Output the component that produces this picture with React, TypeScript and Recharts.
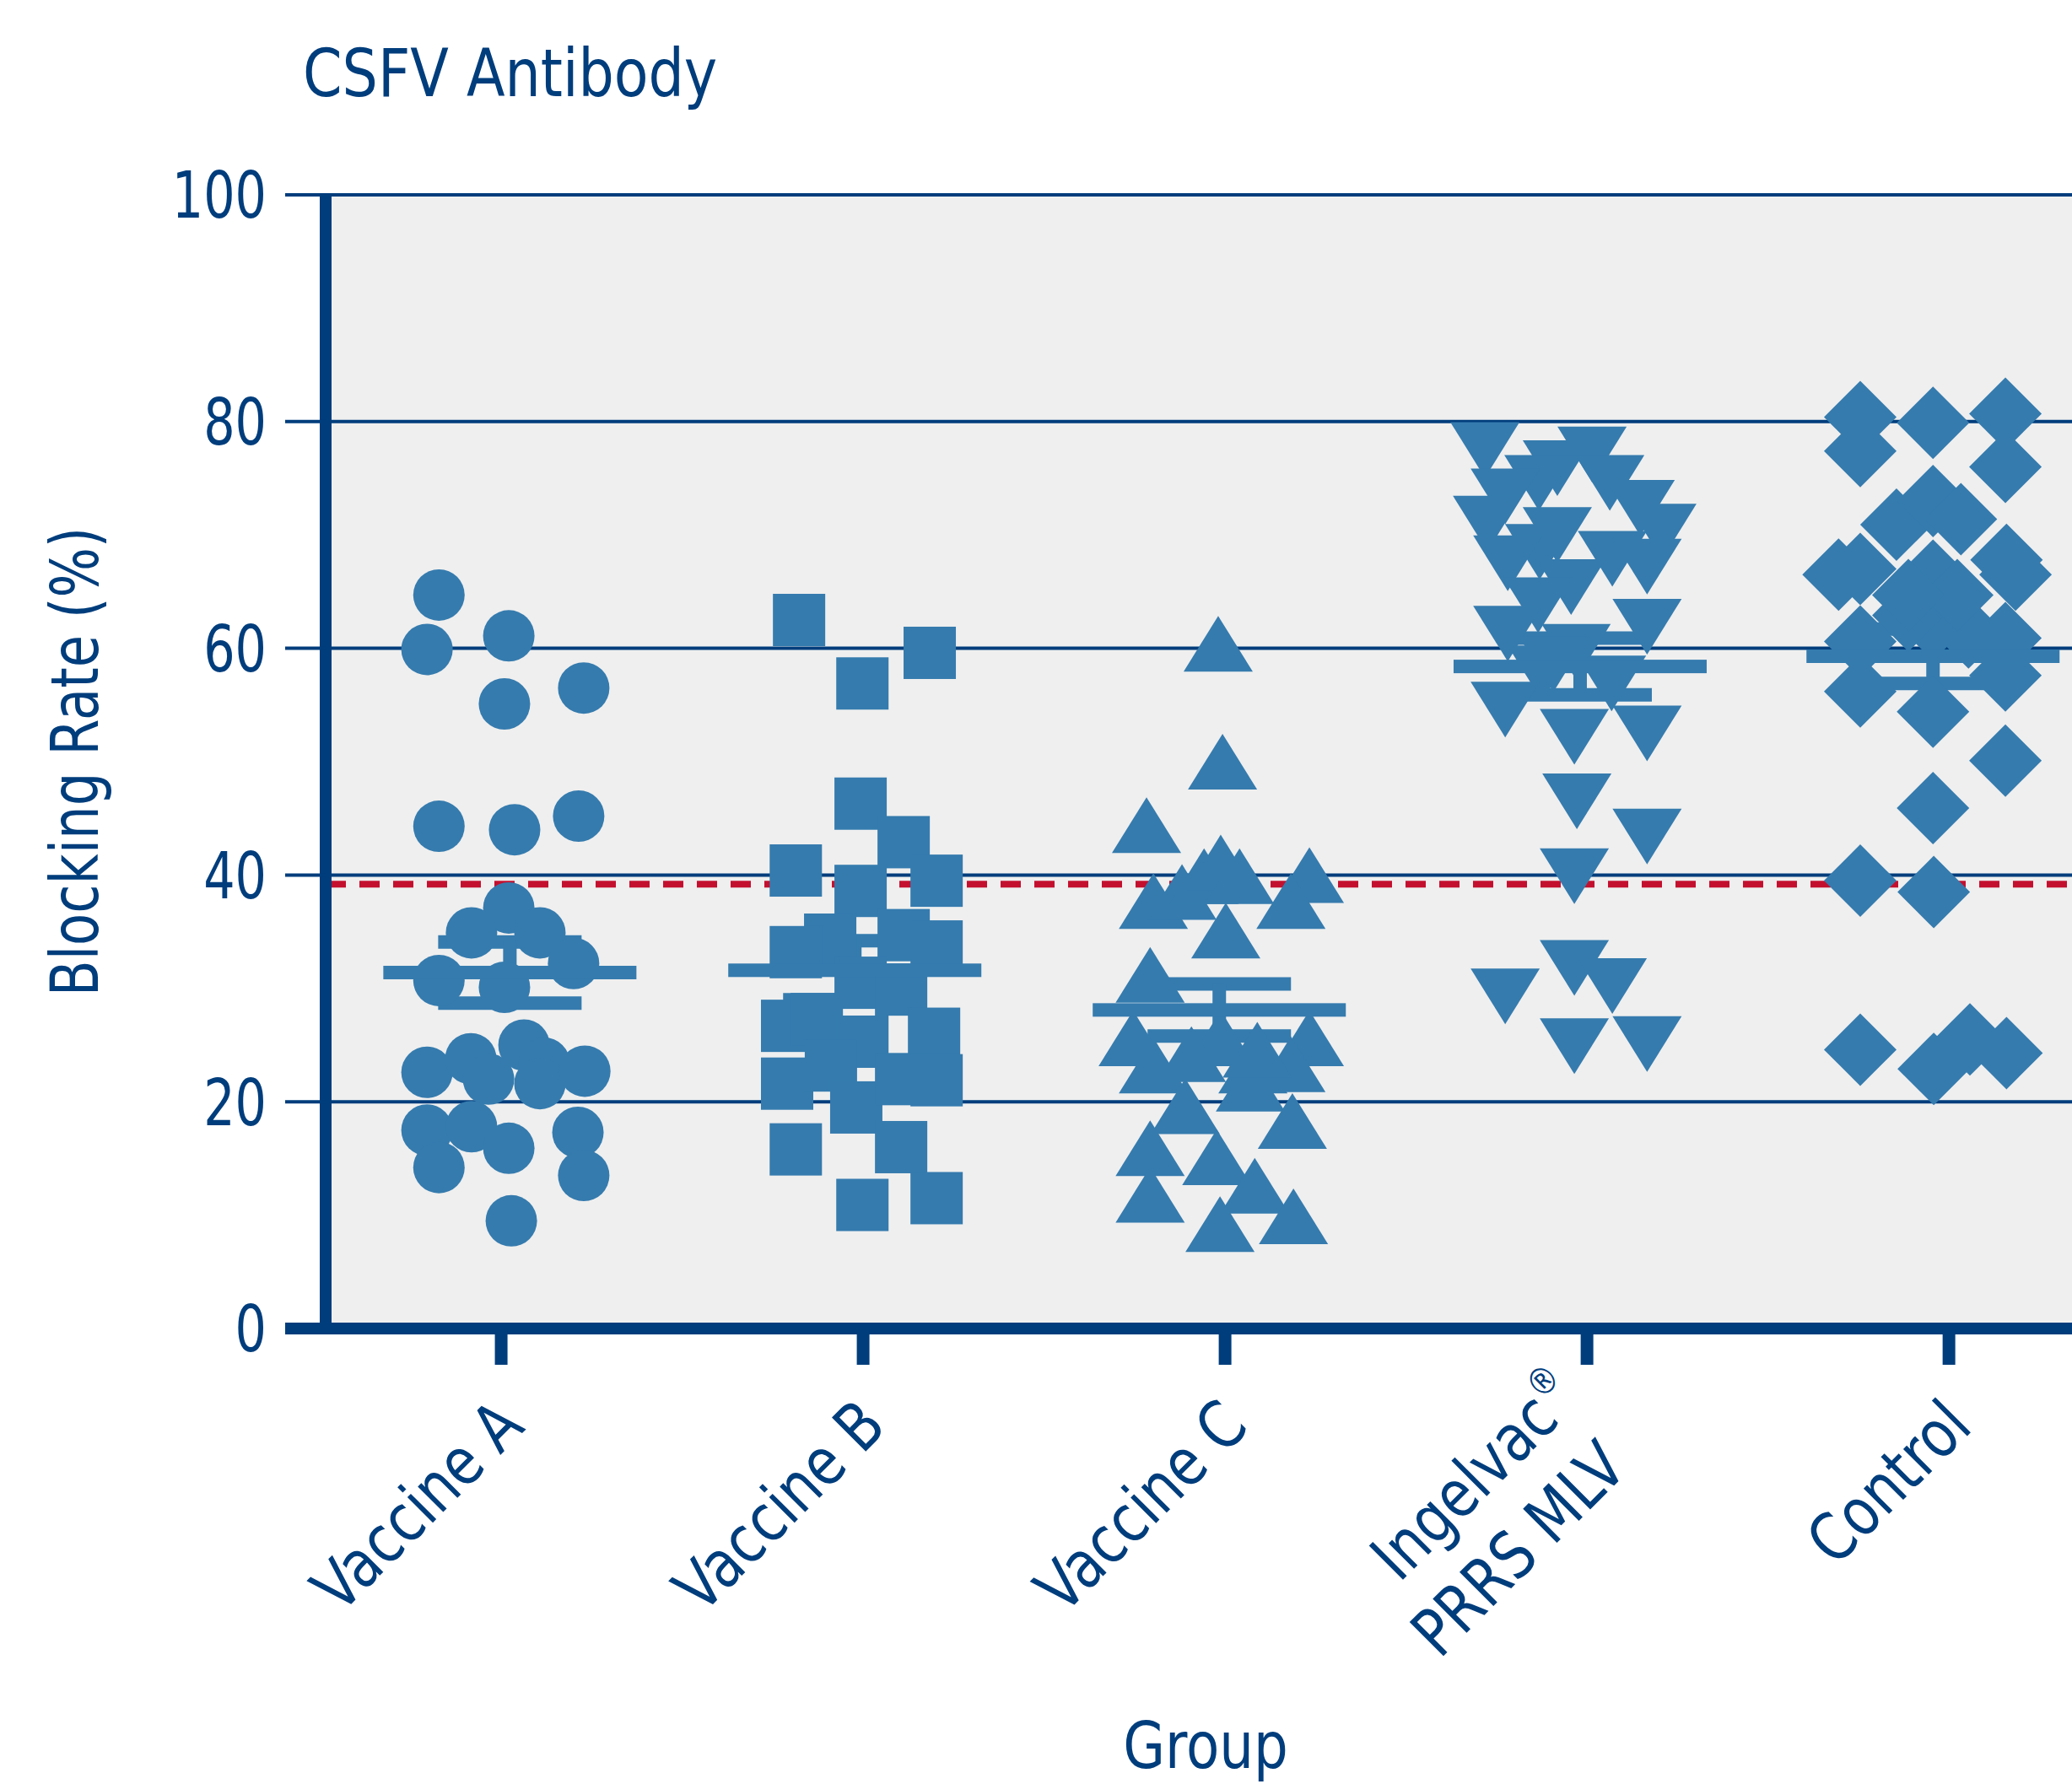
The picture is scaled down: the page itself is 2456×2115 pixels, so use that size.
import React from 'react';
import { ScatterChart, Scatter, XAxis, YAxis, CartesianGrid, ReferenceLine, ErrorBar, Label } from 'recharts';

const NAVY = '#003d7c';
const BLUE = '#357bae';
const RED = '#c4102f';
const FONT = "'DejaVu Sans Condensed', 'DejaVu Sans', sans-serif";

const groupNames = ['Vaccine A', 'Vaccine B', 'Vaccine C', 'Ingelvac®\nPRRS MLV', 'Control'];
const yTicks = [0, 20, 40, 60, 80, 100];
const cutoff = 39.2;

// blocking rate per animal, and its horizontal jitter from the group centre
const vaccineAValues = [64.7, 59.9, 61.1, 55.1, 56.5, 44.3, 44.0, 45.2, 37.1, 34.9, 34.9, 32.2, 30.7, 30.1, 22.6, 23.8, 25.0, 22.0, 23.4, 21.6, 22.7, 17.5, 17.8, 15.9, 17.3, 14.2, 13.5, 9.5];
const vaccineAOffsets = [-0.172, -0.205, 0.021, 0.009, 0.228, -0.172, 0.037, 0.214, 0.021, -0.082, 0.107, 0.2, -0.172, 0.009, -0.205, -0.084, 0.063, -0.035, 0.119, 0.107, 0.231, -0.205, -0.082, 0.021, 0.212, -0.172, 0.228, 0.028];

const vaccineBValues = [62.5, 56.9, 59.6, 46.3, 42.9, 40.4, 39.5, 38.6, 34.3, 33.2, 34.7, 33.7, 30.5, 29.9, 26.7, 27.3, 25.3, 26.0, 21.6, 23.2, 21.9, 19.5, 22.0, 16.0, 15.8, 10.9, 11.5];
const vaccineBOffsets = [-0.177, -0.002, 0.184, -0.007, 0.112, -0.186, 0.203, -0.007, -0.091, -0.186, 0.112, 0.203, -0.007, 0.105, -0.21, -0.128, -0.002, 0.196, -0.21, -0.089, 0.203, -0.019, 0.105, 0.105, -0.186, -0.002, 0.203];

const vaccineCValues = [60.4, 50.0, 44.4, 37.7, 38.5, 39.9, 41.1, 39.9, 40.0, 37.7, 35.1, 31.2, 25.6, 25.6, 25.6, 23.2, 23.2, 23.3, 19.6, 21.6, 18.3, 15.9, 15.1, 11.8, 12.6, 9.2, 9.9, 24.2, 24.6];
const vaccineCOffsets = [-0.019, -0.007, -0.217, -0.198, -0.119, -0.058, -0.012, 0.04, 0.233, 0.182, 0.002, -0.207, -0.254, 0.233, -0.012, -0.198, 0.077, 0.182, -0.11, 0.07, 0.186, -0.207, -0.023, -0.207, 0.082, -0.014, 0.189, -0.093, 0.089];

const ingelvacValues = [77.5, 77.1, 75.9, 74.6, 74.6, 73.4, 71.0, 72.4, 70.3, 70.0, 68.5, 67.5, 67.9, 67.2, 65.4, 63.8, 61.3, 61.9, 59.7, 57.8, 56.9, 54.6, 52.2, 52.5, 46.5, 43.4, 39.9, 31.8, 29.3, 30.2, 24.9, 25.1, 58.6];
const ingelvacOffsets = [-0.282, 0.014, -0.082, -0.133, 0.063, -0.226, -0.275, 0.147, 0.207, -0.082, -0.131, -0.219, 0.07, 0.166, -0.044, -0.135, -0.219, 0.166, -0.03, -0.124, 0.068, -0.226, -0.035, 0.166, -0.028, 0.166, -0.035, -0.035, -0.226, 0.07, -0.035, 0.166, -0.093];

const controlValues = [80.4, 79.9, 80.7, 77.4, 76.0, 70.9, 73.0, 71.4, 66.5, 67.0, 67.8, 66.5, 66.4, 60.6, 60.9, 62.1, 61.4, 62.9, 56.2, 57.6, 54.4, 50.1, 45.9, 39.5, 38.5, 24.6, 22.9, 25.5, 24.3, 64.7, 64.7];
const controlOffsets = [-0.245, -0.044, 0.156, -0.245, 0.156, -0.145, -0.044, 0.033, -0.305, -0.245, 0.159, 0.184, -0.044, -0.245, 0.156, -0.044, 0.054, -0.112, -0.245, 0.156, -0.044, 0.156, -0.044, -0.245, -0.042, -0.245, -0.042, 0.058, 0.159, 0.023, -0.112];

// mean and SEM per group, and where the bar sits relative to the tick
const groupMeans = [31.4, 31.6, 28.1, 58.4, 59.3];
const groupSems = [2.7, 2.6, 2.3, 2.5, 2.4];
const meanShift = [0.024, -0.023, -0.016, -0.019, -0.044];

const toPoints = (group: number, values: number[], offsets: number[]) =>
  values.map((v, i) => ({ x: group + offsets[i], y: v }));

const dataA = toPoints(1, vaccineAValues, vaccineAOffsets);
const dataB = toPoints(2, vaccineBValues, vaccineBOffsets);
const dataC = toPoints(3, vaccineCValues, vaccineCOffsets);
const dataD = toPoints(4, ingelvacValues, ingelvacOffsets);
const dataE = toPoints(5, controlValues, controlOffsets);
const meanData = groupMeans.map((m, i) => ({ x: i + 1 + meanShift[i], y: m, err: groupSems[i] }));

const Circle = (p: any) => <circle cx={p.cx} cy={p.cy} r={30.5} fill={BLUE} />;
const Square = (p: any) => <rect x={p.cx - 31} y={p.cy - 31} width={62} height={62} fill={BLUE} />;
const TriUp = (p: any) => (
  <polygon points={`${p.cx},${p.cy - 33} ${p.cx + 41},${p.cy + 33} ${p.cx - 41},${p.cy + 33}`} fill={BLUE} />
);
const TriDown = (p: any) => (
  <polygon points={`${p.cx - 41},${p.cy - 33} ${p.cx + 41},${p.cy - 33} ${p.cx},${p.cy + 33}`} fill={BLUE} />
);
const Diamond = (p: any) => (
  <polygon points={`${p.cx},${p.cy - 43} ${p.cx + 43},${p.cy} ${p.cx},${p.cy + 43} ${p.cx - 43},${p.cy}`} fill={BLUE} />
);
const MeanBar = (p: any) => <rect x={p.cx - 150} y={p.cy - 8} width={300} height={16} fill={BLUE} />;

const YTick = (props: any) => {
  const { x, y, payload } = props;
  return (
    <g>
      <line x1={x + 22} x2={x + 70} y1={y} y2={y} stroke={NAVY} strokeWidth={payload.value === 0 ? 14 : 4} />
      <text
        transform={`translate(${x},${y}) scale(0.86,1)`}
        dy="0.36em"
        textAnchor="end"
        fontSize={76}
        fill={NAVY}
        fontFamily={FONT}
      >
        {payload.value}
      </text>
    </g>
  );
};

const XTick = (props: any) => {
  const { x, y, payload } = props;
  const label = groupNames[Math.round(payload.value) - 1] ?? '';
  const lines = label.split('\n');
  return (
    <g transform={`translate(${x + 30},${y + 74}) rotate(-45) scale(0.92,1)`}>
      <text textAnchor="end" fontSize={78} fill={NAVY} fontFamily={FONT}>
        {lines.map((ln, i) => {
          const reg = ln.endsWith('®');
          return (
            <tspan key={i} x={i === 1 ? -22 : 0} y={(i - (lines.length - 1) / 2) * 98}>
              {reg ? ln.slice(0, -1) : ln}
              {reg && <tspan fontSize={44} dy={-34}>®</tspan>}
            </tspan>
          );
        })}
      </text>
    </g>
  );
};

const App: React.FC = () => {
  return (
    <div style={{ position: 'absolute', left: 0, top: 0, width: 2456, height: 2115, background: '#fff' }}>
      <svg width={2456} height={200} style={{ position: 'absolute', left: 0, top: 0 }}>
        <text transform="translate(359,114) scale(0.95,1)" fontSize={78} fill={NAVY} fontFamily={FONT}>
          CSFV Antibody
        </text>
      </svg>
      <ScatterChart width={2456} height={2115} margin={{ top: 231, right: 0, bottom: 510, left: 326 }}>
        <CartesianGrid vertical={false} fill="#efefef" stroke={NAVY} strokeWidth={4} />
        <XAxis
          type="number"
          dataKey="x"
          domain={[0.515, 5.34]}
          ticks={[1, 2, 3, 4, 5]}
          interval={0}
          allowDataOverflow
          height={30}
          axisLine={{ stroke: NAVY, strokeWidth: 14 }}
          tickLine={{ stroke: NAVY, strokeWidth: 15 }}
          tickSize={43}
          tick={<XTick />}
        >
          <Label
            content={(p: any) => (
              <text
                transform={`translate(${p.viewBox.x + p.viewBox.width / 2 + 8},2096) scale(0.94,1)`}
                textAnchor="middle"
                fontSize={76}
                fill={NAVY}
                fontFamily={FONT}
              >
                Group
              </text>
            )}
          />
        </XAxis>
        <YAxis
          type="number"
          dataKey="y"
          domain={[0, 100]}
          ticks={yTicks}
          interval={0}
          width={60}
          axisLine={{ stroke: NAVY, strokeWidth: 14 }}
          tickLine={false}
          tickSize={48}
          tickMargin={22}
          tick={<YTick />}
        >
          <Label
            content={(p: any) => (
              <text
                transform={`translate(${p.viewBox.x - 210},${p.viewBox.y + p.viewBox.height / 2}) rotate(-90) scale(0.89,1)`}
                textAnchor="middle"
                fontSize={78}
                fill={NAVY}
                fontFamily={FONT}
              >
                Blocking Rate (%)
              </text>
            )}
          />
        </YAxis>
        <Scatter data={dataA} shape={Circle} isAnimationActive={false} />
        <Scatter data={dataB} shape={Square} isAnimationActive={false} />
        <Scatter data={dataC} shape={TriUp} isAnimationActive={false} />
        <Scatter data={dataD} shape={TriDown} isAnimationActive={false} />
        <Scatter data={dataE} shape={Diamond} isAnimationActive={false} />
        <Scatter data={meanData} shape={MeanBar} isAnimationActive={false}>
          <ErrorBar dataKey="err" direction="y" width={85} strokeWidth={16} stroke={BLUE} isAnimationActive={false} />
        </Scatter>
        <ReferenceLine y={cutoff} stroke={RED} strokeWidth={8} strokeDasharray="24 16" />
      </ScatterChart>
    </div>
  );
};

export default App;
